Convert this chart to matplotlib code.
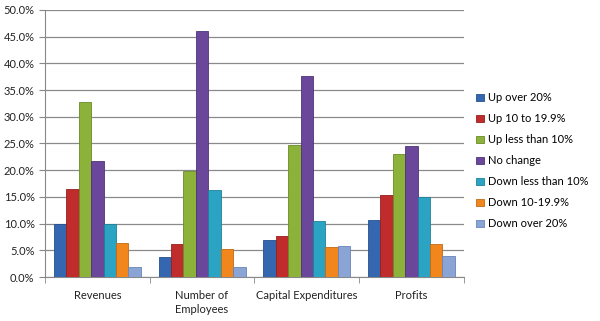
import matplotlib.pyplot as plt
import numpy as np
from matplotlib.ticker import FuncFormatter

categories = ["Revenues", "Number of\nEmployees", "Capital Expenditures", "Profits"]
series_names = ["Up over 20%", "Up 10 to 19.9%", "Up less than 10%", "No change",
                "Down less than 10%", "Down 10-19.9%", "Down over 20%"]
up_over_20 = [10.0, 3.7, 6.9, 10.7]
up_10_to_19 = [16.5, 6.1, 7.7, 15.4]
up_less_10 = [32.7, 19.9, 24.8, 23.0]
no_change = [21.8, 46.1, 37.7, 24.6]
down_less_10 = [10.0, 16.3, 10.5, 14.9]
down_10_to_19 = [6.4, 5.2, 5.7, 6.2]
down_over_20 = [1.9, 1.9, 5.9, 3.9]
series = [up_over_20, up_10_to_19, up_less_10, no_change, down_less_10, down_10_to_19, down_over_20]
colors = ["#3566B0", "#C02B2B", "#8CB23A", "#6B479C", "#2BA4C4", "#F0861C", "#8AA4D6"]
edges = ["#24508F", "#962020", "#6A8A28", "#4E3378", "#1E7F99", "#C06A12", "#6A84B6"]
yticks = [0, 5, 10, 15, 20, 25, 30, 35, 40, 45, 50]

plt.rcParams['font.family'] = ['Lato', 'DejaVu Sans']
fig = plt.figure(figsize=(6.0, 3.21), dpi=100)
ax = fig.add_axes([0.075, 0.137, 0.698, 0.832])

x = np.arange(len(categories))
n = len(series)
bw = 0.83 / n
for i, (vals, name) in enumerate(zip(series, series_names)):
    ax.bar(x + (i - (n - 1) / 2) * bw, vals, width=bw, color=colors[i],
           edgecolor=edges[i], linewidth=0.6, label=name, zorder=3)

ax.set_xlim(-0.5, len(categories) - 0.5)
ax.set_ylim(0, 50)
ax.set_yticks(yticks)
ax.yaxis.set_major_formatter(FuncFormatter(lambda v, p: f"{v:.1f}%"))
ax.set_xticks(x)
ax.set_xticklabels(categories, fontsize=8, color="#222222", linespacing=1.35)
ax.set_xticks(np.arange(-0.5, len(categories)), minor=True)
ax.tick_params(axis='x', which='major', length=0, pad=9)
ax.tick_params(axis='x', which='minor', length=4, color="#888888")
ax.tick_params(axis='y', labelsize=8, labelcolor="#222222", length=4, color="#888888")
ax.grid(axis='y', color="#8a8a8a", linewidth=0.9, zorder=0)
for s in ['top', 'right']:
    ax.spines[s].set_visible(False)
for s in ['left', 'bottom']:
    ax.spines[s].set_color("#888888")

ax.legend(loc='center left', bbox_to_anchor=(1.01, 0.435), frameon=False, fontsize=8,
          handlelength=0.7, handleheight=0.7, handletextpad=0.4, labelspacing=0.9,
          borderaxespad=0.3)

fig.savefig("out.png", dpi=100)
